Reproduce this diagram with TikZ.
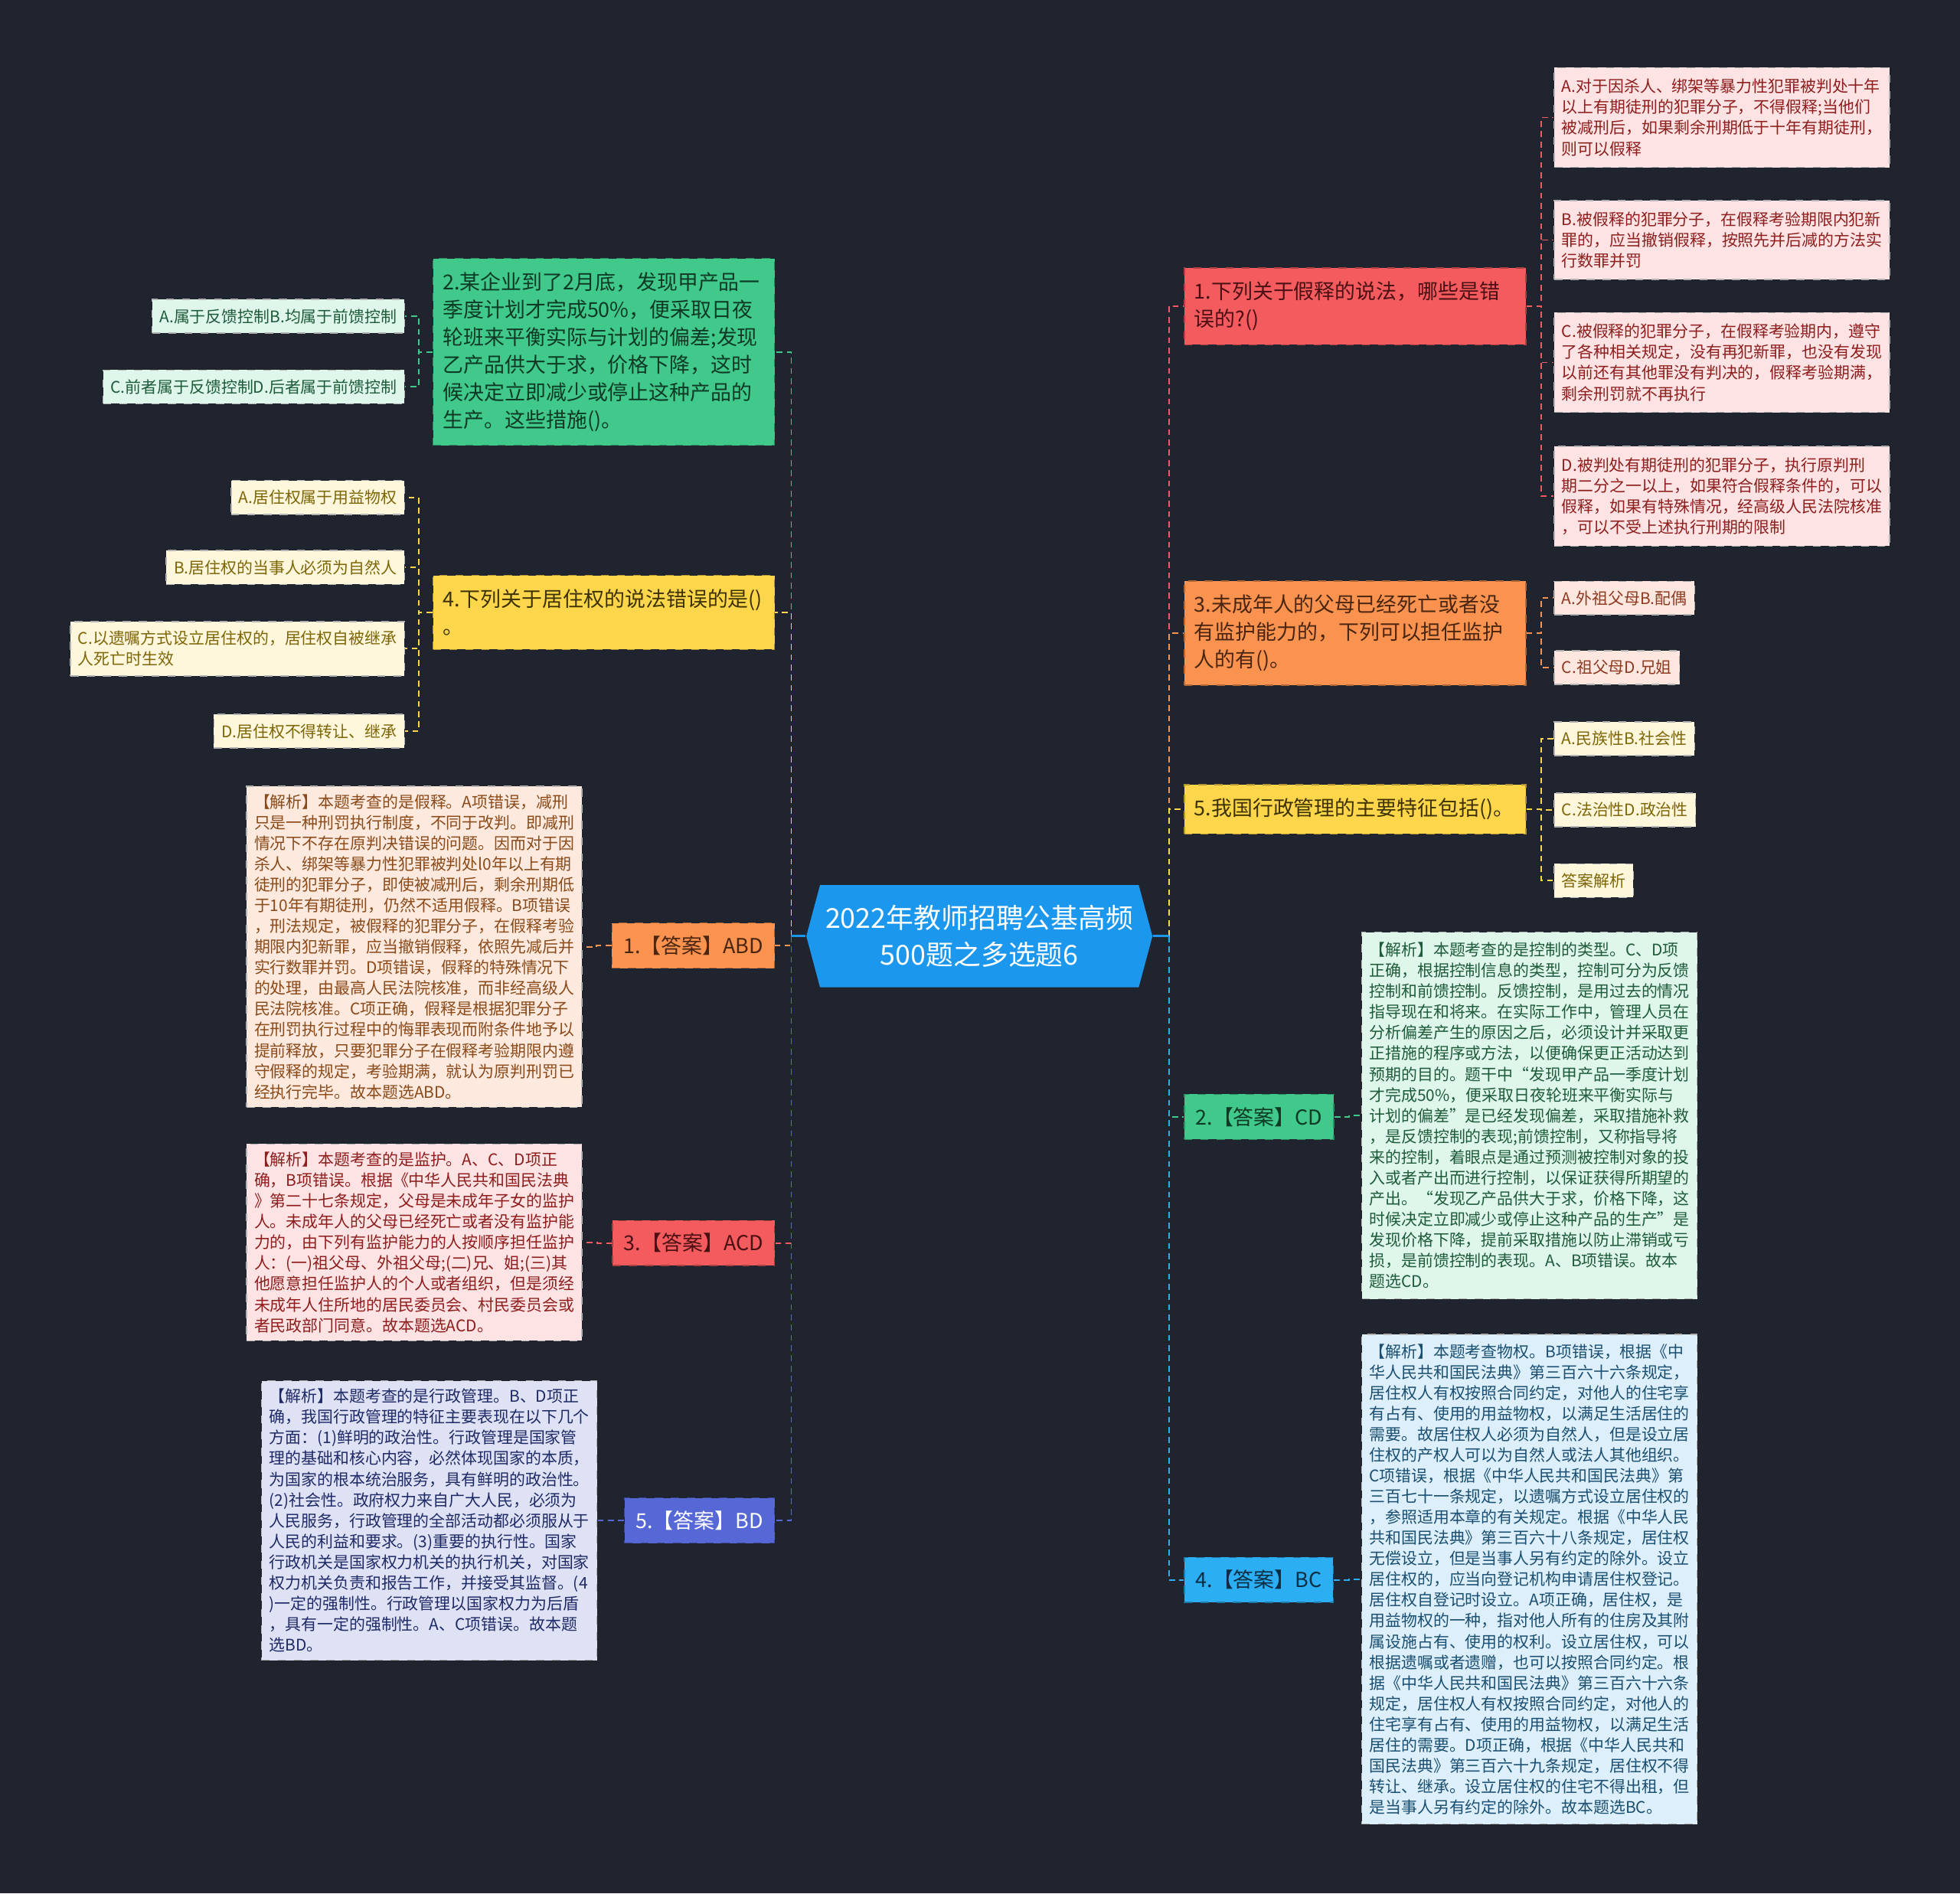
\documentclass[tikz,border=0pt]{standalone}
\usepackage{fontspec}
\setmainfont{Noto Sans CJK SC}
\usetikzlibrary{shapes.symbols}

% colours of the map
\definecolor{bgdark}{HTML}{20242F}
\definecolor{rootblue}{HTML}{1C97EE}
\definecolor{tred}{HTML}{F45B5E}
\definecolor{torange}{HTML}{FB9350}
\definecolor{tyellow}{HTML}{FDD64B}
\definecolor{tgreen}{HTML}{40C98A}
\definecolor{tsky}{HTML}{2BAEF2}
\definecolor{tviolet}{HTML}{5667D6}
% dark text on the topic boxes
\definecolor{dred}{HTML}{4A1013}
\definecolor{dorange}{HTML}{4A2510}
\definecolor{dyellow}{HTML}{3D3200}
\definecolor{dgreen}{HTML}{0E3A25}
\definecolor{dsky}{HTML}{0C2E45}
% light fills of the leaves
\definecolor{lpink}{HTML}{FDE3E3}
\definecolor{lpeach}{HTML}{FDE9DD}
\definecolor{lsalmon}{HTML}{FDE7DF}
\definecolor{lcream}{HTML}{FFF7DB}
\definecolor{lmint}{HTML}{DFF6EB}
\definecolor{lice}{HTML}{DCEFFA}
\definecolor{llilac}{HTML}{DFE2F5}
% text on the leaves
\definecolor{kred}{HTML}{8E1E1E}
\definecolor{kbrown}{HTML}{8A4A1A}
\definecolor{krust}{HTML}{8E3A22}
\definecolor{kolive}{HTML}{7D6608}
\definecolor{kgreen}{HTML}{1E5B3A}
\definecolor{knavy}{HTML}{1B4F72}
\definecolor{kindigo}{HTML}{1E2A66}

\newcommand{\rootfont}{\fontsize{10.2pt}{13.5pt}\selectfont}
\newcommand{\topicfont}{\fontsize{7.66pt}{10.2pt}\selectfont}
\newcommand{\leaffont}{\fontsize{5.95pt}{7.7pt}\selectfont}

\begin{document}
\begin{tikzpicture}[x=0.016327cm, y=-0.016327cm,
  root/.style={signal, signal to=west and east, signal pointer angle=150, fill=rootblue, text=white, align=center, font=\rootfont, inner xsep=2pt, inner ysep=5pt, minimum height=38pt},
  topic/.style={rectangle, fill=#1, draw=#1!70!black, dashed, align=left, text width=119.5pt, font=\topicfont, inner xsep=3.7pt, inner ysep=5.2pt},
  answer/.style={rectangle, fill=#1, draw=#1!70!black, dashed, font=\topicfont, inner xsep=4.2pt, inner ysep=4.8pt},
  leaf/.style={rectangle, fill=#1, draw=black!30, dashed, align=left, font=\leaffont, inner xsep=2.8pt, inner ysep=3.5pt},
  note/.style={leaf=#1, text width=119pt, inner ysep=3pt},
  link/.style={draw=#1, line width=0.55pt, dash pattern=on 2.2pt off 1.6pt},
]

\fill[bgdark] (0,0) rectangle (1568,1515);

% === centre ===
\node[root] (root) at (783.5,749) {2022年教师招聘公基高频\\500题之多选题6};
\coordinate (lj) at (633,749);
\coordinate (rj) at (935,749);

% === right: question 1 ===
\node[topic=tred, text=dred, anchor=west] (q1) at (947,245) {1.下列关于假释的说法，哪些是错\\误的?()};
\node[note=lpink, text=kred, inner ysep=4.2pt, anchor=west] (q1a) at (1243,94) {A.对于因杀人、绑架等暴力性犯罪被判处十年\\以上有期徒刑的犯罪分子，不得假释;当他们\\被减刑后，如果剩余刑期低于十年有期徒刑，\\则可以假释};
\node[note=lpink, text=kred, inner ysep=4.2pt, anchor=west] (q1b) at (1243,192) {B.被假释的犯罪分子，在假释考验期限内犯新\\罪的，应当撤销假释，按照先并后减的方法实\\行数罪并罚};
\node[note=lpink, text=kred, inner ysep=4.2pt, anchor=west] (q1c) at (1243,290) {C.被假释的犯罪分子，在假释考验期内，遵守\\了各种相关规定，没有再犯新罪，也没有发现\\以前还有其他罪没有判决的，假释考验期满，\\剩余刑罚就不再执行};
\node[note=lpink, text=kred, inner ysep=4.2pt, anchor=west] (q1d) at (1243,397) {D.被判处有期徒刑的犯罪分子，执行原判刑\\期二分之一以上，如果符合假释条件的，可以\\假释，如果有特殊情况，经高级人民法院核准\\，可以不受上述执行刑期的限制};

% === right: question 3 ===
\node[topic=torange, text=dorange, anchor=west] (q3) at (947,506.5) {3.未成年人的父母已经死亡或者没\\有监护能力的，下列可以担任监护\\人的有()。};
\node[leaf=lsalmon, text=krust, anchor=west] (q3a) at (1243,478.5) {A.外祖父母B.配偶};
\node[leaf=lsalmon, text=krust, anchor=west] (q3c) at (1243,534) {C.祖父母D.兄姐};

% === right: question 5 ===
\node[topic=tyellow, text=dyellow, anchor=west] (q5) at (947,647.5) {5.我国行政管理的主要特征包括()。};
\node[leaf=lcream, text=kolive, anchor=west] (q5a) at (1243,591) {A.民族性B.社会性};
\node[leaf=lcream, text=kolive, anchor=west] (q5c) at (1243,648) {C.法治性D.政治性};
\node[leaf=lcream, text=kolive, anchor=west] (q5x) at (1243,704.5) {答案解析};

% === right: answer 2 ===
\node[answer=tgreen, text=dgreen, anchor=west] (a2) at (947,893.5) {2.【答案】CD};
\node[note=lmint, text=kgreen, inner ysep=3.8pt, anchor=west] (a2n) at (1089,892.5) {【解析】本题考查的是控制的类型。C、D项\\正确，根据控制信息的类型，控制可分为反馈\\控制和前馈控制。反馈控制，是用过去的情况\\指导现在和将来。在实际工作中，管理人员在\\分析偏差产生的原因之后，必须设计并采取更\\正措施的程序或方法，以便确保更正活动达到\\预期的目的。题干中“发现甲产品一季度计划\\才完成50\%，便采取日夜轮班来平衡实际与\\计划的偏差”是已经发现偏差，采取措施补救\\，是反馈控制的表现;前馈控制，又称指导将\\来的控制，着眼点是通过预测被控制对象的投\\入或者产出而进行控制，以保证获得所期望的\\产出。“发现乙产品供大于求，价格下降，这\\时候决定立即减少或停止这种产品的生产”是\\发现价格下降，提前采取措施以防止滞销或亏\\损，是前馈控制的表现。A、B项错误。故本\\题选CD。};

% === right: answer 4 ===
\node[answer=tsky, text=dsky, anchor=west] (a4) at (947,1264) {4.【答案】BC};
\node[note=lice, text=knavy, inner ysep=3.5pt, anchor=west] (a4n) at (1089,1263.5) {【解析】本题考查物权。B项错误，根据《中\\华人民共和国民法典》第三百六十六条规定，\\居住权人有权按照合同约定，对他人的住宅享\\有占有、使用的用益物权，以满足生活居住的\\需要。故居住权人必须为自然人，但是设立居\\住权的产权人可以为自然人或法人其他组织。\\C项错误，根据《中华人民共和国民法典》第\\三百七十一条规定，以遗嘱方式设立居住权的\\，参照适用本章的有关规定。根据《中华人民\\共和国民法典》第三百六十八条规定，居住权\\无偿设立，但是当事人另有约定的除外。设立\\居住权的，应当向登记机构申请居住权登记。\\居住权自登记时设立。A项正确，居住权，是\\用益物权的一种，指对他人所有的住房及其附\\属设施占有、使用的权利。设立居住权，可以\\根据遗嘱或者遗赠，也可以按照合同约定。根\\据《中华人民共和国民法典》第三百六十六条\\规定，居住权人有权按照合同约定，对他人的\\住宅享有占有、使用的用益物权，以满足生活\\居住的需要。D项正确，根据《中华人民共和\\国民法典》第三百六十九条规定，居住权不得\\转让、继承。设立居住权的住宅不得出租，但\\是当事人另有约定的除外。故本题选BC。};

% === left: question 2 ===
\node[topic=tgreen, text=dgreen, anchor=east] (q2) at (620,281.5) {2.某企业到了2月底，发现甲产品一\\季度计划才完成50\%，便采取日夜\\轮班来平衡实际与计划的偏差;发现\\乙产品供大于求，价格下降，这时\\候决定立即减少或停止这种产品的\\生产。这些措施()。};
\node[leaf=lmint, text=kgreen, anchor=east] (q2a) at (324,253) {A.属于反馈控制B.均属于前馈控制};
\node[leaf=lmint, text=kgreen, anchor=east] (q2c) at (324,309.5) {C.前者属于反馈控制D.后者属于前馈控制};

% === left: question 4 ===
\node[topic=tyellow, text=dyellow, anchor=east] (q4) at (620,490) {4.下列关于居住权的说法错误的是()\\。};
\node[leaf=lcream, text=kolive, anchor=east] (q4a) at (324,398) {A.居住权属于用益物权};
\node[leaf=lcream, text=kolive, anchor=east] (q4b) at (324,454) {B.居住权的当事人必须为自然人};
\node[leaf=lcream, text=kolive, anchor=east] (q4c) at (324,519) {C.以遗嘱方式设立居住权的，居住权自被继承\\人死亡时生效};
\node[leaf=lcream, text=kolive, anchor=east] (q4d) at (324,585) {D.居住权不得转让、继承};

% === left: answer 1 ===
\node[answer=torange, text=dorange, anchor=east] (a1) at (620,756.5) {1.【答案】ABD};
\node[note=lpeach, text=kbrown, anchor=east] (a1n) at (466,757.5) {【解析】本题考查的是假释。A项错误，减刑\\只是一种刑罚执行制度，不同于改判。即减刑\\情况下不存在原判决错误的问题。因而对于因\\杀人、绑架等暴力性犯罪被判处l0年以上有期\\徒刑的犯罪分子，即使被减刑后，剩余刑期低\\于10年有期徒刑，仍然不适用假释。B项错误\\，刑法规定，被假释的犯罪分子，在假释考验\\期限内犯新罪，应当撤销假释，依照先减后并\\实行数罪并罚。D项错误，假释的特殊情况下\\的处理，由最高人民法院核准，而非经高级人\\民法院核准。C项正确，假释是根据犯罪分子\\在刑罚执行过程中的悔罪表现而附条件地予以\\提前释放，只要犯罪分子在假释考验期限内遵\\守假释的规定，考验期满，就认为原判刑罚已\\经执行完毕。故本题选ABD。};

% === left: answer 3 ===
\node[answer=tred, text=dred, anchor=east] (a3) at (620,994.5) {3.【答案】ACD};
\node[note=lpink, text=kred, anchor=east] (a3n) at (466,994) {【解析】本题考查的是监护。A、C、D项正\\确，B项错误。根据《中华人民共和国民法典\\》第二十七条规定，父母是未成年子女的监护\\人。未成年人的父母已经死亡或者没有监护能\\力的，由下列有监护能力的人按顺序担任监护\\人：(一)祖父母、外祖父母;(二)兄、姐;(三)其\\他愿意担任监护人的个人或者组织，但是须经\\未成年人住所地的居民委员会、村民委员会或\\者民政部门同意。故本题选ACD。};

% === left: answer 5 ===
\node[answer=tviolet, text=white, anchor=east] (a5) at (620,1216.5) {5.【答案】BD};
\node[note=llilac, text=kindigo, anchor=east] (a5n) at (478,1216.5) {【解析】本题考查的是行政管理。B、D项正\\确，我国行政管理的特征主要表现在以下几个\\方面：(1)鲜明的政治性。行政管理是国家管\\理的基础和核心内容，必然体现国家的本质，\\为国家的根本统治服务，具有鲜明的政治性。\\(2)社会性。政府权力来自广大人民，必须为\\人民服务，行政管理的全部活动都必须服从于\\人民的利益和要求。(3)重要的执行性。国家\\行政机关是国家权力机关的执行机关，对国家\\权力机关负责和报告工作，并接受其监督。(4\\)一定的强制性。行政管理以国家权力为后盾\\，具有一定的强制性。A、C项错误。故本题\\选BD。};

% === links from the centre ===
\draw[link=tgreen] (lj) |- (q2.east);
\draw[link=tyellow] (lj) |- (q4.east);
\draw[link=torange] (lj) |- (a1.east);
\draw[link=tred] (lj) |- (a3.east);
\draw[link=tviolet] (lj) |- (a5.east);
\draw[link=tred] (rj) |- (q1.west);
\draw[link=torange] (rj) |- (q3.west);
\draw[link=tyellow] (rj) |- (q5.west);
\draw[link=tgreen] (rj) |- (a2.west);
\draw[link=tsky] (rj) |- (a4.west);
\draw[rootblue, line width=0.8pt] (root.west) -- (lj);
\draw[rootblue, line width=0.8pt] (root.east) -- (rj);

% === links to the leaves ===
\draw[link=tred] (q1.east) -- ++(12,0) |- (q1a.west);
\draw[link=tred] (q1.east) -- ++(12,0) |- (q1b.west);
\draw[link=tred] (q1.east) -- ++(12,0) |- (q1c.west);
\draw[link=tred] (q1.east) -- ++(12,0) |- (q1d.west);
\draw[link=torange] (q3.east) -- ++(12,0) |- (q3a.west);
\draw[link=torange] (q3.east) -- ++(12,0) |- (q3c.west);
\draw[link=tyellow] (q5.east) -- ++(12,0) |- (q5a.west);
\draw[link=tyellow] (q5.east) -- ++(12,0) |- (q5c.west);
\draw[link=tyellow] (q5.east) -- ++(12,0) |- (q5x.west);
\draw[link=tgreen] (a2.east) -- ++(12,0) |- (a2n.west);
\draw[link=tsky] (a4.east) -- ++(12,0) |- (a4n.west);
\draw[link=tgreen] (q2.west) -- ++(-11,0) |- (q2a.east);
\draw[link=tgreen] (q2.west) -- ++(-11,0) |- (q2c.east);
\draw[link=tyellow] (q4.west) -- ++(-11,0) |- (q4a.east);
\draw[link=tyellow] (q4.west) -- ++(-11,0) |- (q4b.east);
\draw[link=tyellow] (q4.west) -- ++(-11,0) |- (q4c.east);
\draw[link=tyellow] (q4.west) -- ++(-11,0) |- (q4d.east);
\draw[link=torange] (a1.west) -- ++(-12,0) |- (a1n.east);
\draw[link=tred] (a3.west) -- ++(-12,0) |- (a3n.east);
\draw[link=tviolet] (a5.west) -- ++(-11,0) |- (a5n.east);

\end{tikzpicture}
\end{document}
